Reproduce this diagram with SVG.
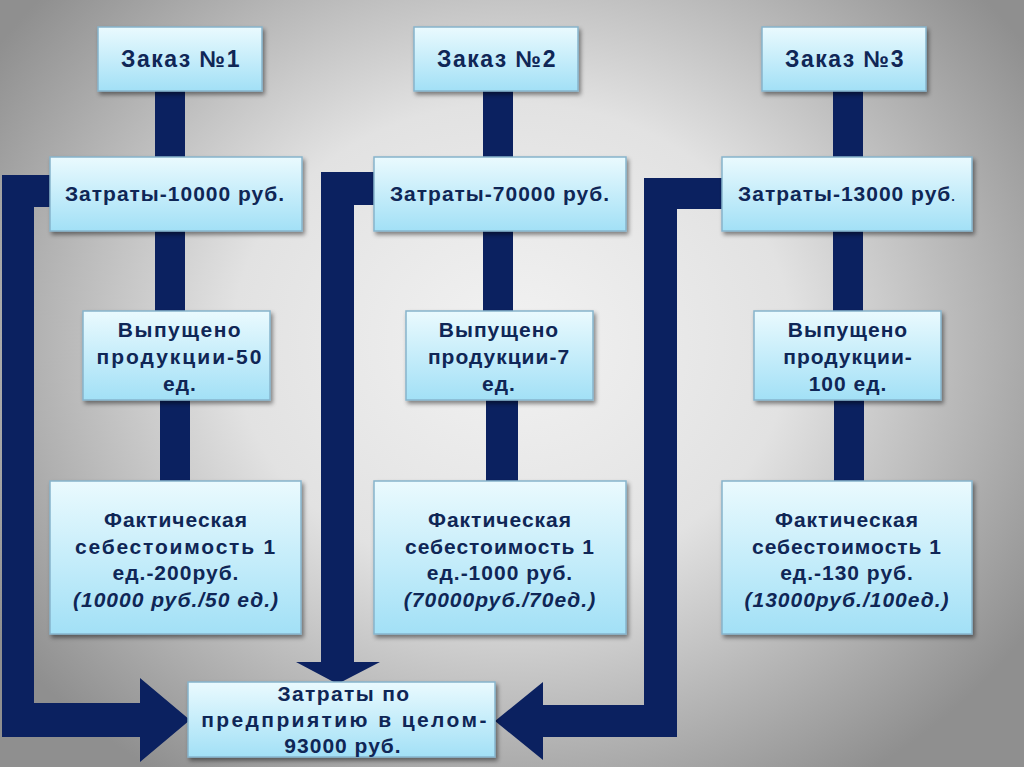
<svg xmlns="http://www.w3.org/2000/svg" width="1024" height="767" viewBox="0 0 1024 767">
<defs>
<radialGradient id="bg" cx="512" cy="340" r="620" gradientUnits="userSpaceOnUse" gradientTransform="translate(512 340) scale(1 0.85) translate(-512 -340)">
<stop offset="0" stop-color="#f2f2f2"/>
<stop offset="0.45" stop-color="#e2e2e2"/>
<stop offset="1" stop-color="#8f8f8f"/>
</radialGradient>
<linearGradient id="box" x1="0" y1="0" x2="0" y2="1">
<stop offset="0" stop-color="#eafafe"/>
<stop offset="1" stop-color="#a2e0f6"/>
</linearGradient>
<filter id="sh" x="-10%" y="-10%" width="125%" height="130%">
<feDropShadow dx="2" dy="3" stdDeviation="2" flood-color="#000" flood-opacity="0.45"/>
</filter>
<style>
.b{fill:url(#box);stroke:#86b4cc;stroke-width:1.5;filter:url(#sh)}
.t{font-family:"Liberation Sans",Arial,sans-serif;font-weight:bold;font-size:21px;fill:#0f2656;text-anchor:middle;letter-spacing:1px}
.h{font-size:23px;letter-spacing:1.5px}
.i{font-style:italic}
.c{fill:#0b2160}
</style>
</defs>
<rect width="1024" height="767" fill="url(#bg)"/>
<g id="connectors">
<rect class="c" x="155" y="88" width="30" height="72"/>
<rect class="c" x="155" y="228" width="30" height="86"/>
<rect class="c" x="160" y="397" width="30" height="86"/>
<rect class="c" x="483" y="88" width="30" height="72"/>
<rect class="c" x="483" y="228" width="30" height="86"/>
<rect class="c" x="486" y="397" width="32" height="86"/>
<rect class="c" x="833" y="88" width="30" height="72"/>
<rect class="c" x="833" y="228" width="30" height="86"/>
<rect class="c" x="834" y="397" width="30" height="86"/>
<path class="c" d="M2,175 H54 V207 H34 V703 H140 V678 L190,720 L140,762 V737 H2 Z"/>
<path class="c" d="M321,172 H378 V205 H354 V662 H380 L337.5,684 L296,662 H321 Z"/>
<path class="c" d="M644,178 H726 V209 H677 V737 H543 V760 L495,721 L543,682 V705 H644 Z"/>
</g>
<g id="order1"><rect class="b" x="98" y="27" width="164" height="64"/><text class="t h" x="181" y="67">Заказ №1</text></g>
<g id="order2"><rect class="b" x="414" y="27" width="164" height="64"/><text class="t h" x="497" y="67">Заказ №2</text></g>
<g id="order3"><rect class="b" x="762" y="27" width="164" height="64"/><text class="t h" x="845" y="67">Заказ №3</text></g>
<g id="cost1"><rect class="b" x="50" y="157" width="252" height="74"/><text class="t" x="175" y="201">Затраты-10000 руб.</text></g>
<g id="cost2"><rect class="b" x="374" y="157" width="252" height="74"/><text class="t" x="500" y="201">Затраты-70000 руб.</text></g>
<g id="cost3"><rect class="b" x="722" y="157" width="250" height="74"/><text class="t" x="847" y="201">Затраты-13000 руб<tspan font-size="13">.</tspan></text></g>
<g id="out1"><rect class="b" x="83" y="311" width="187" height="89"/><text class="t"><tspan x="180" y="337" letter-spacing="1.5">Выпущено</tspan><tspan x="180" y="364" letter-spacing="2">продукции-50</tspan><tspan x="180" y="391">ед.</tspan></text></g>
<g id="out2"><rect class="b" x="406" y="311" width="187" height="89"/><text class="t"><tspan x="499" y="337">Выпущено</tspan><tspan x="499" y="364">продукции-7</tspan><tspan x="499" y="391">ед.</tspan></text></g>
<g id="out3"><rect class="b" x="754" y="311" width="187" height="89"/><text class="t"><tspan x="848" y="337">Выпущено</tspan><tspan x="848" y="364">продукции-</tspan><tspan x="848" y="391">100 ед.</tspan></text></g>
<g id="unit1"><rect class="b" x="50" y="481" width="251" height="153"/><text class="t"><tspan x="176" y="527">Фактическая</tspan><tspan x="176" y="554" letter-spacing="1.8">себестоимость 1</tspan><tspan x="176" y="580">ед.-200руб.</tspan><tspan class="i" x="176" y="607">(10000 руб./50 ед.)</tspan></text></g>
<g id="unit2"><rect class="b" x="374" y="481" width="252" height="153"/><text class="t"><tspan x="500" y="527">Фактическая</tspan><tspan x="500" y="554">себестоимость 1</tspan><tspan x="500" y="580">ед.-1000 руб.</tspan><tspan class="i" x="500" y="607">(70000руб./70ед.)</tspan></text></g>
<g id="unit3"><rect class="b" x="722" y="481" width="250" height="153"/><text class="t"><tspan x="847" y="527">Фактическая</tspan><tspan x="847" y="554">себестоимость 1</tspan><tspan x="847" y="580">ед.-130 руб.</tspan><tspan class="i" x="847" y="607">(13000руб./100ед.)</tspan></text></g>
<g id="total"><rect class="b" x="188" y="682" width="307" height="75"/><text class="t"><tspan x="344" y="701" letter-spacing="1.4">Затраты по</tspan><tspan x="345" y="727" letter-spacing="2.4">предприятию в целом-</tspan><tspan x="343" y="753">93000 руб.</tspan></text></g>
</svg>
